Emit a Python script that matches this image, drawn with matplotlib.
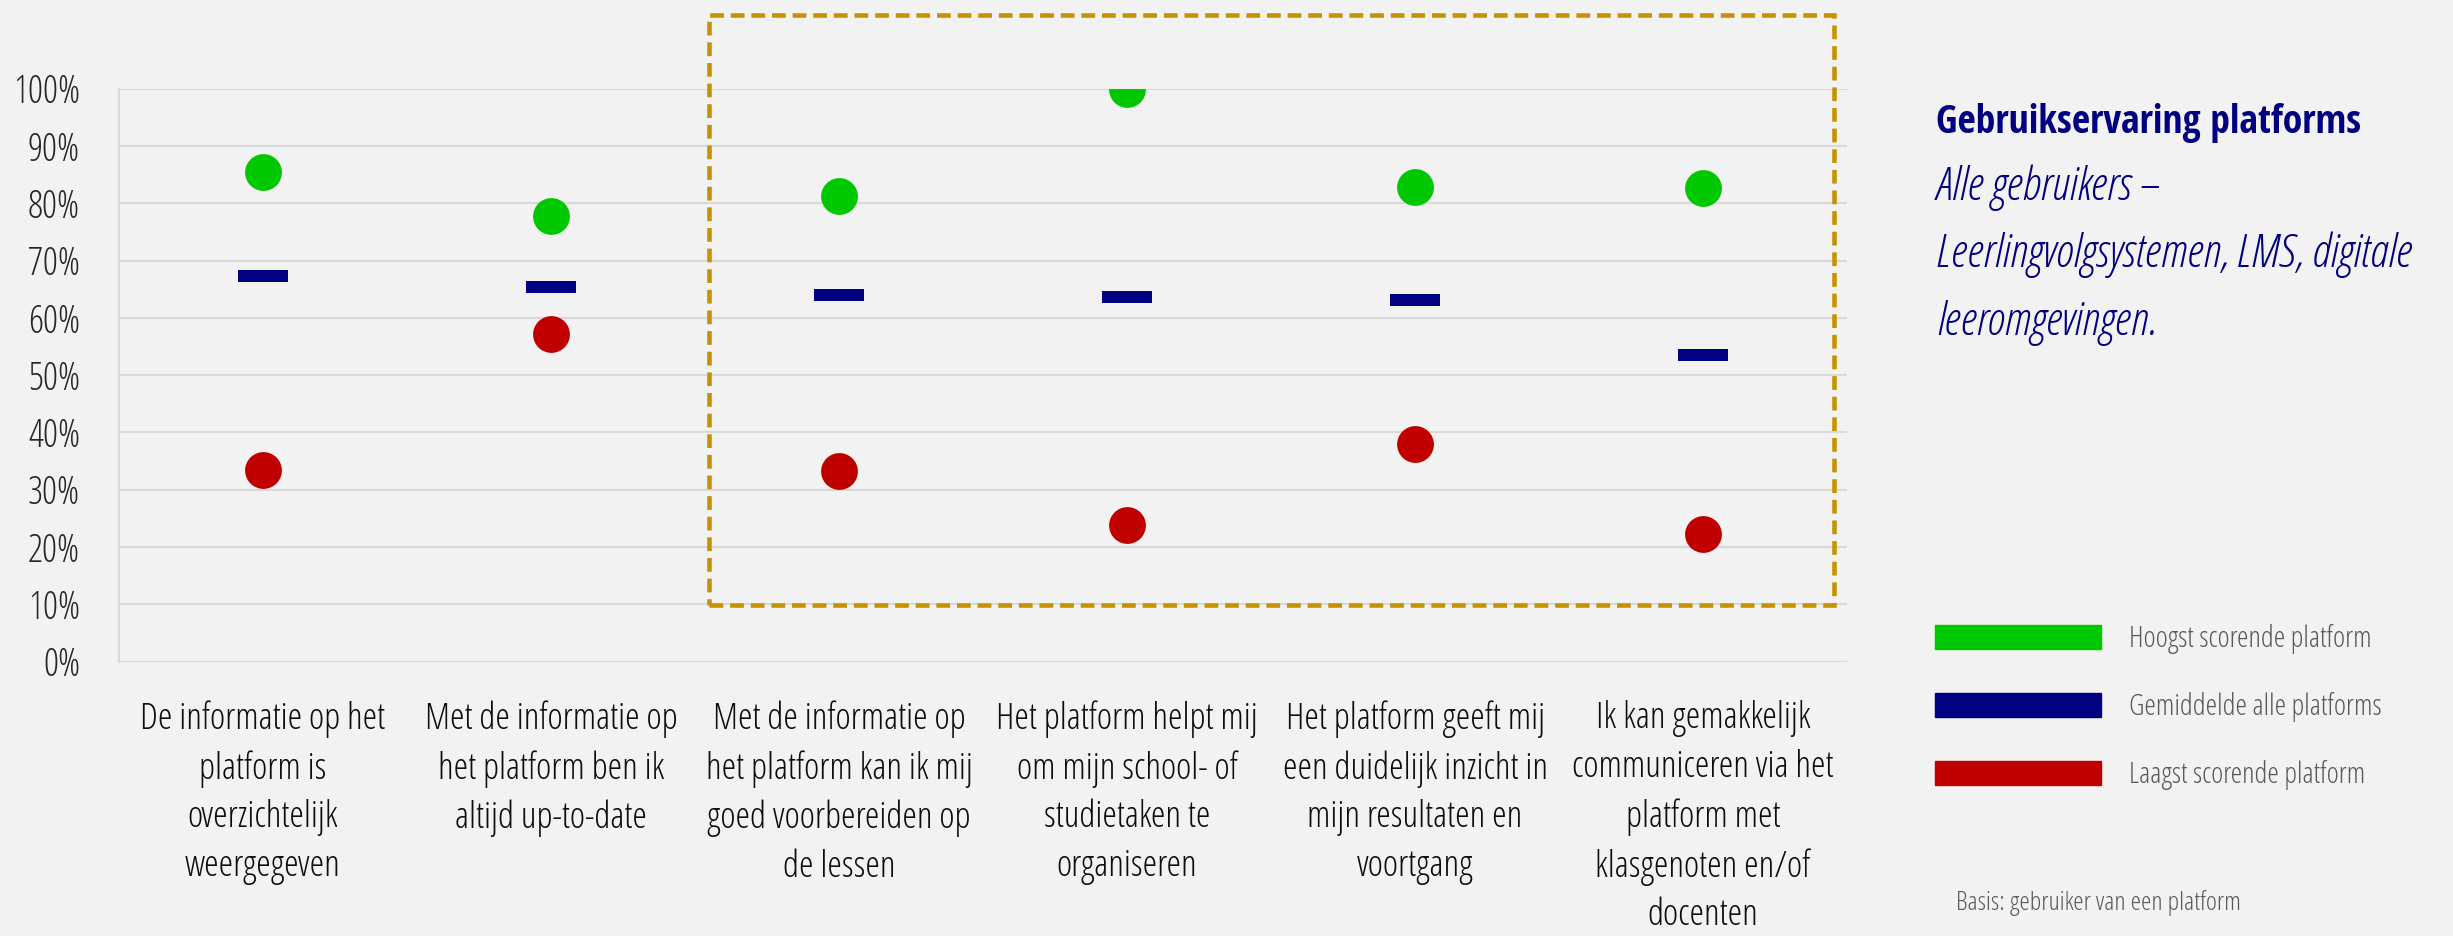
import matplotlib
matplotlib.use('Agg')
import matplotlib.pyplot as plt
import matplotlib.patches as mpatches
from matplotlib.font_manager import FontProperties, fontManager

# Open Sans Condensed (Light / Light italic / Bold) zoeken
def font_file(basename):
    for f in fontManager.ttflist:
        if f.fname.endswith(basename):
            return f.fname
    return None

LIGHT = font_file('OpenSans-CondLight.ttf')
LIGHT_IT = font_file('OpenSans-CondLightItalic.ttf')
BOLD = font_file('OpenSans-CondBold.ttf')


def fp(path, size):
    if path:
        return FontProperties(fname=path, size=size)
    return FontProperties(family='DejaVu Sans Condensed', size=size)


# data
categories = [
    'De informatie op het\nplatform is\noverzichtelijk\nweergegeven',
    'Met de informatie op\nhet platform ben ik\naltijd up-to-date',
    'Met de informatie op\nhet platform kan ik mij\ngoed voorbereiden op\nde lessen',
    'Het platform helpt mij\nom mijn school- of\nstudietaken te\norganiseren',
    'Het platform geeft mij\neen duidelijk inzicht in\nmijn resultaten en\nvoortgang',
    'Ik kan gemakkelijk\ncommuniceren via het\nplatform met\nklasgenoten en/of\ndocenten',
]
hoogst = [0.855, 0.777, 0.813, 1.00, 0.828, 0.827]
gemiddeld = [0.673, 0.654, 0.640, 0.636, 0.632, 0.535]
laagst = [0.334, 0.571, 0.333, 0.238, 0.379, 0.222]

yticks = [0.0, 0.1, 0.2, 0.3, 0.4, 0.5, 0.6, 0.7, 0.8, 0.9, 1.0]
ytick_labels = ['0%', '10%', '20%', '30%', '40%', '50%', '60%', '70%', '80%', '90%', '100%']

subtitle_lines = ['Alle gebruikers \u2013', 'Leerlingvolgsystemen, LMS, digitale', 'leeromgevingen.']

GREEN = '#00C800'
NAVY = '#000080'
RED = '#C00000'
GOLD = '#C59300'
BG = '#F2F2F2'

fig = plt.figure(figsize=(24.53, 9.36), dpi=100)
fig.patch.set_facecolor(BG)
ax = fig.add_axes([0.0485, 0.2932, 0.7045, 0.6120])
ax.set_facecolor(BG)

x = list(range(len(categories)))

# streepje voor het gemiddelde
bar_marker = [(-1, -0.22), (1, -0.22), (1, 0.22), (-1, 0.22), (-1, -0.22)]

ax.plot(x, hoogst, linestyle='none', marker='o', markersize=26.5, color=GREEN, markeredgewidth=0, zorder=3)
ax.plot(x, gemiddeld, linestyle='none', marker=bar_marker, markersize=36.7, color=NAVY, markeredgewidth=0, zorder=3)
ax.plot(x, laagst, linestyle='none', marker='o', markersize=26.5, color=RED, markeredgewidth=0, zorder=3)

ax.set_xlim(-0.5, 5.5)
ax.set_ylim(0, 1)
ax.set_yticks(yticks)
ax.set_yticklabels(ytick_labels)
ax.set_xticks(x)
ax.set_xticklabels(categories)
ax.yaxis.grid(True, color='#D9D9D9', linewidth=1.5, zorder=0)
ax.set_axisbelow(True)
for side in ['top', 'right', 'bottom']:
    ax.spines[side].set_visible(False)
ax.spines['left'].set_color('#D9D9D9')
ax.spines['left'].set_linewidth(1.5)
ax.tick_params(axis='both', length=0)
ax.tick_params(axis='y', pad=28)
ax.tick_params(axis='x', pad=28)
for lbl in ax.get_yticklabels():
    lbl.set_fontproperties(fp(LIGHT, 27))
    lbl.set_color('#262626')
for lbl in ax.get_xticklabels():
    lbl.set_fontproperties(fp(LIGHT, 26.5))
    lbl.set_color('#0D0D0D')
    lbl.set_linespacing(1.42)

# gestippeld kader om categorie 3 t/m 6
ax.add_patch(mpatches.Rectangle((1.549, 0.098), 3.906, 1.031, fill=False, edgecolor=GOLD,
                                linewidth=3.3, linestyle=(0, (3, 1.5)), clip_on=False, zorder=4))

# titel en ondertitel
fig.text(1936 / 2453, 1 - 133 / 936, 'Gebruikservaring platforms', color=NAVY,
         fontproperties=fp(BOLD, 28.5), va='baseline', ha='left')
for i, line in enumerate(subtitle_lines):
    fig.text(1936 / 2453, 1 - (200 + 67.5 * i) / 936, line, color=NAVY,
             fontproperties=fp(LIGHT_IT, 33), va='baseline', ha='left')

# legenda
handles = [mpatches.Patch(color=GREEN), mpatches.Patch(color=NAVY), mpatches.Patch(color=RED)]
labels = ['Hoogst scorende platform', 'Gemiddelde alle platforms', 'Laagst scorende platform']
leg = fig.legend(handles, labels, loc='upper left', bbox_to_anchor=(1935 / 2453, 1 - 624 / 936),
                 frameon=False, prop=fp(LIGHT, 21), handlelength=5.69, handleheight=0.92,
                 handletextpad=0.96, labelspacing=1.3, borderpad=0, borderaxespad=0)
for t in leg.get_texts():
    t.set_color('#595959')

fig.text(1956 / 2453, 1 - 910 / 936, 'Basis: gebruiker van een platform', color='#595959',
         fontproperties=fp(LIGHT, 19), va='baseline', ha='left')

fig.savefig('out.png', dpi=100, facecolor=BG)
